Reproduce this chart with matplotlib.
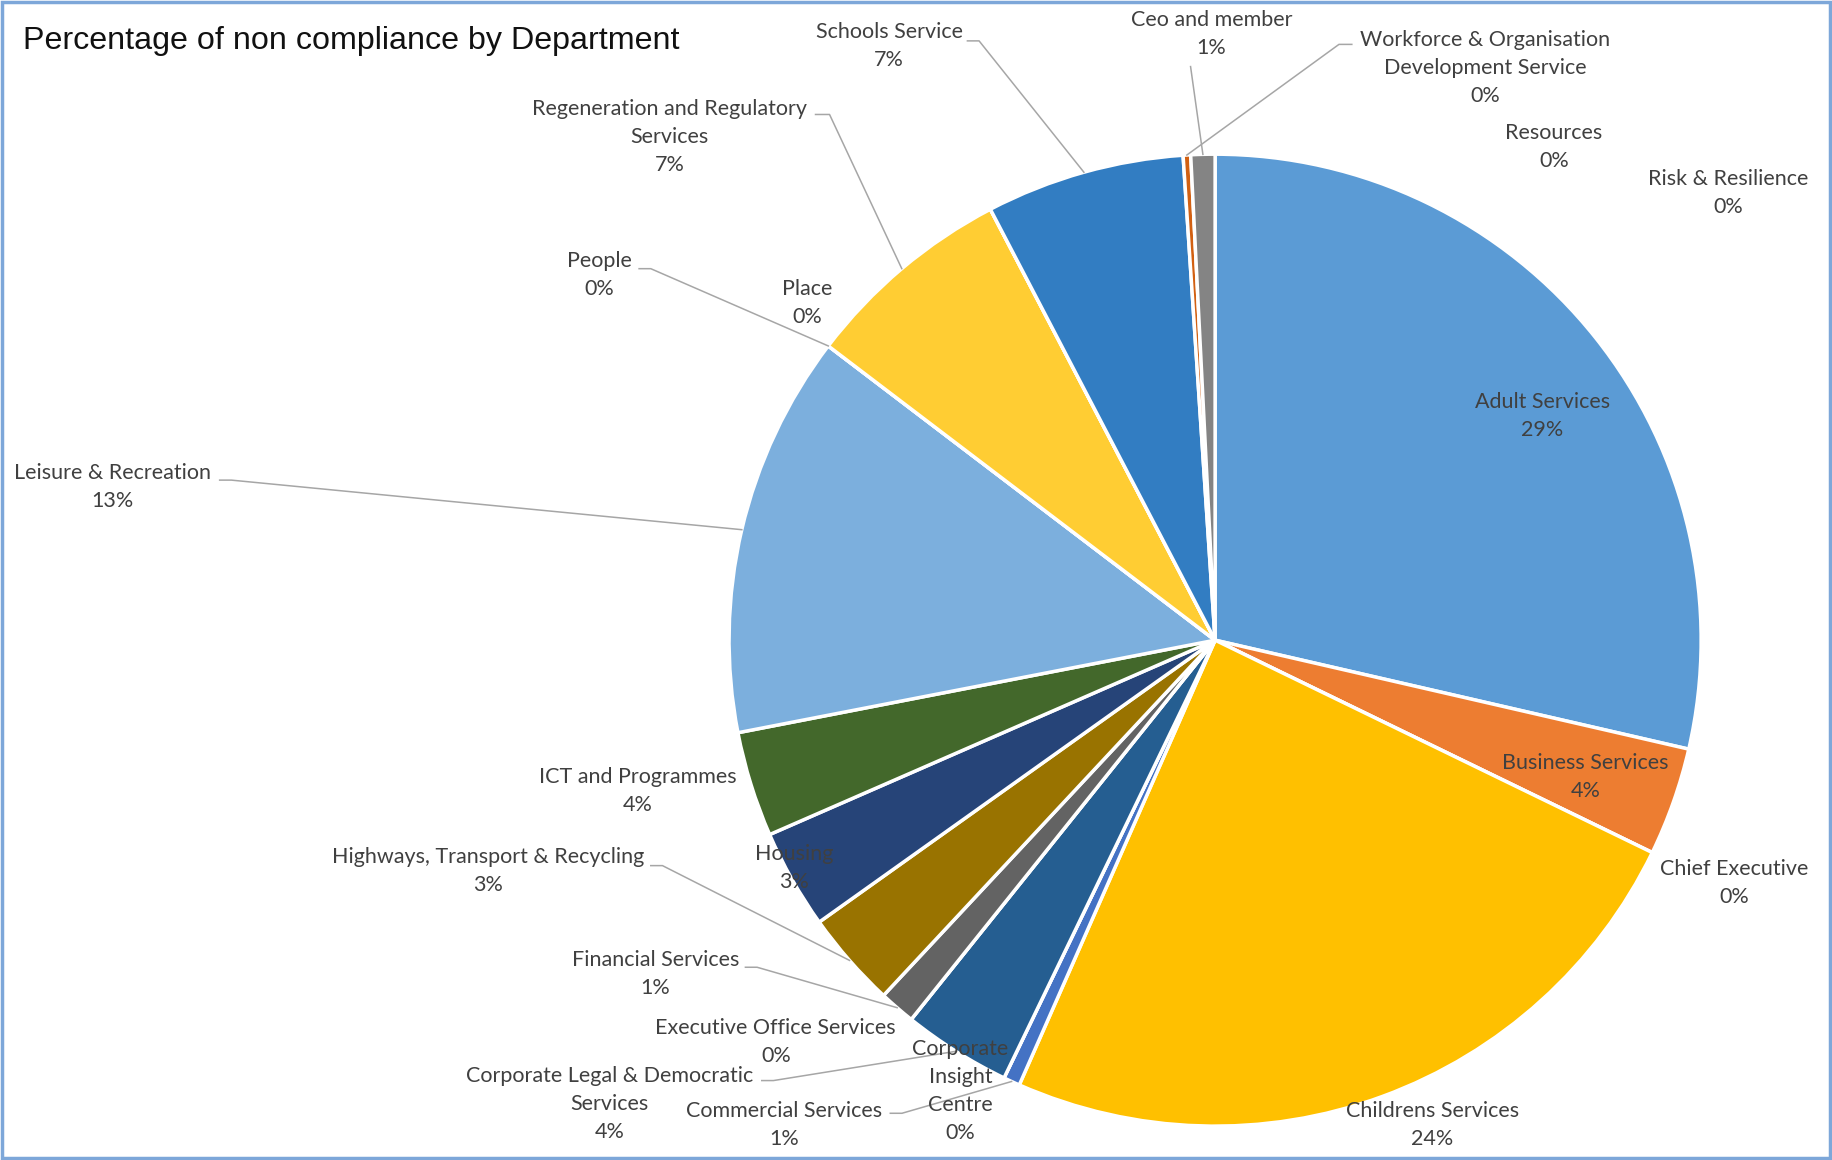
import matplotlib
matplotlib.use("Agg")
import matplotlib.pyplot as plt
import numpy as np
from matplotlib import font_manager
from matplotlib.patches import Rectangle

# ---------------------------------------------------------------------
# Data (percentage of non compliance, clockwise from 12 o'clock).
# ---------------------------------------------------------------------

DEPARTMENTS = [
    "Adult Services", "Business Services", "Chief Executive",
    "Childrens Services", "Commercial Services", "Corporate Insight Centre",
    "Corporate Legal & Democratic Services", "Executive Office Services",
    "Financial Services", "Highways, Transport & Recycling", "Housing",
    "ICT and Programmes", "Leisure & Recreation", "People", "Place",
    "Regeneration and Regulatory Services", "Resources", "Risk & Resilience",
    "Schools Service", "Workforce & Organisation Development Service",
    "Ceo and member",
]
NON_COMPLIANCE = [
    28.6, 3.6, 0.0,
    24.4, 0.55, 0.0,
    3.6, 0.0,
    1.2, 3.2, 3.3,
    3.5, 13.4, 0.0, 0.0,
    7.0, 0.0, 0.0,
    6.6, 0.25,
    0.8,
]
COLORS = [
    "#5B9BD5", "#ED7D31", "#A5A5A5", "#FFC000", "#4472C4", "#70AD47",
    "#255E91", "#9E480E", "#636363", "#997300", "#264478", "#43682B",
    "#7CAFDD", "#F1975A", "#B7B7B7", "#FFCD33", "#698ED0", "#8CC168",
    "#327DC2", "#D26012", "#848484",
]

# How each category name is wrapped in its data label.
WRAPPED = {
    "Corporate Insight Centre": "Corporate\nInsight\nCentre",
    "Corporate Legal & Democratic Services": "Corporate Legal & Democratic\nServices",
    "Regeneration and Regulatory Services": "Regeneration and Regulatory\nServices",
    "Workforce & Organisation Development Service": "Workforce & Organisation\nDevelopment Service",
}

# ---------------------------------------------------------------------
# Layout (canvas units: 1568 x 993, y measured downward).
# ---------------------------------------------------------------------

W, H = 1568, 993
CENTER = (1040, 548)
RADIUS = 416

LABEL_POS = {
    "Adult Services": (1320, 356),
    "Business Services": (1357, 665),
    "Chief Executive": (1484, 756),
    "Childrens Services": (1226, 963),
    "Commercial Services": (671, 963),
    "Corporate Insight Centre": (822, 934),
    "Corporate Legal & Democratic Services": (522, 945),
    "Executive Office Services": (664, 892),
    "Financial Services": (561, 834),
    "Highways, Transport & Recycling": (418, 746),
    "Housing": (680, 743),
    "ICT and Programmes": (546, 677),
    "Leisure & Recreation": (96, 417),
    "People": (513, 235),
    "Place": (691, 259),
    "Regeneration and Regulatory Services": (573, 117),
    "Resources": (1330, 126),
    "Risk & Resilience": (1479, 165),
    "Schools Service": (761, 39),
    "Workforce & Organisation Development Service": (1271, 58),
    "Ceo and member": (1037, 29),
}

# leader line: (start x, start y, horizontal tick length)
LEADERS = {
    "Schools Service": (828, 35, 10),
    "Ceo and member": (1019, 57, 0),
    "Workforce & Organisation Development Service": (1157, 38, -11),
    "Commercial Services": (762, 953, 10),
    "Corporate Legal & Democratic Services": (652, 925, 10),
    "Financial Services": (638, 828, 10),
    "Highways, Transport & Recycling": (557, 741, 10),
    "Leisure & Recreation": (188, 411, 10),
    "People": (547, 230, 10),
    "Regeneration and Regulatory Services": (698, 98, 12),
}

names = {f.name for f in font_manager.fontManager.ttflist}
if "Liberation Sans Narrow" in names:
    LABEL_FONT, LABEL_SIZE = "Liberation Sans Narrow", 17.5
else:
    LABEL_FONT, LABEL_SIZE = "Lato", 15.5
TITLE_FONT = "Liberation Sans" if "Liberation Sans" in names else "DejaVu Sans"
TEXT_COLOR = "#404040"


def Y(y):
    return H - y


def edge_point(frac):
    theta = 2 * np.pi * frac
    return (CENTER[0] + RADIUS * np.sin(theta),
            CENTER[1] - RADIUS * np.cos(theta))


def main():
    fig = plt.figure(figsize=(18.32, 11.6), dpi=100)
    ax = fig.add_axes([0, 0, 1, 1])

    ax.pie(
        NON_COMPLIANCE, colors=COLORS, startangle=90, counterclock=False,
        center=(CENTER[0], Y(CENTER[1])), radius=RADIUS,
        wedgeprops=dict(edgecolor="white", linewidth=2.5),
    )
    ax.set_xlim(0, W)
    ax.set_ylim(0, H)
    ax.set_aspect("auto")
    ax.axis("off")

    vals = np.array(NON_COMPLIANCE, dtype=float)
    cum = np.cumsum(vals) / vals.sum()
    mids = cum - vals / vals.sum() / 2

    for i, name in enumerate(DEPARTMENTS):
        text = WRAPPED.get(name, name) + f"\n{vals[i]:.0f}%"
        x, y = LABEL_POS[name]
        ax.text(x, Y(y), text, ha="center", va="center", multialignment="center",
                fontsize=LABEL_SIZE, family=LABEL_FONT, color=TEXT_COLOR,
                linespacing=1.5, zorder=5)
        if name in LEADERS:
            x0, y0, tick = LEADERS[name]
            ex, ey = edge_point(mids[i])
            xs = [x0, x0 + tick, ex]
            ys = [Y(y0), Y(y0), Y(ey)]
            ax.plot(xs, ys, color="#A6A6A6", linewidth=1.1, zorder=4)

    ax.text(20, Y(35), "Percentage of non compliance by Department",
            ha="left", va="center", fontsize=23.2, family=TITLE_FONT,
            color="#111111")

    # chart border
    fig.patches.append(Rectangle((0.001, 0.002), 0.998, 0.996,
                                 transform=fig.transFigure, fill=False,
                                 edgecolor="#7DA7D9", linewidth=2.5))

    fig.savefig("out.png", dpi=100, facecolor="white")


if __name__ == "__main__":
    main()
